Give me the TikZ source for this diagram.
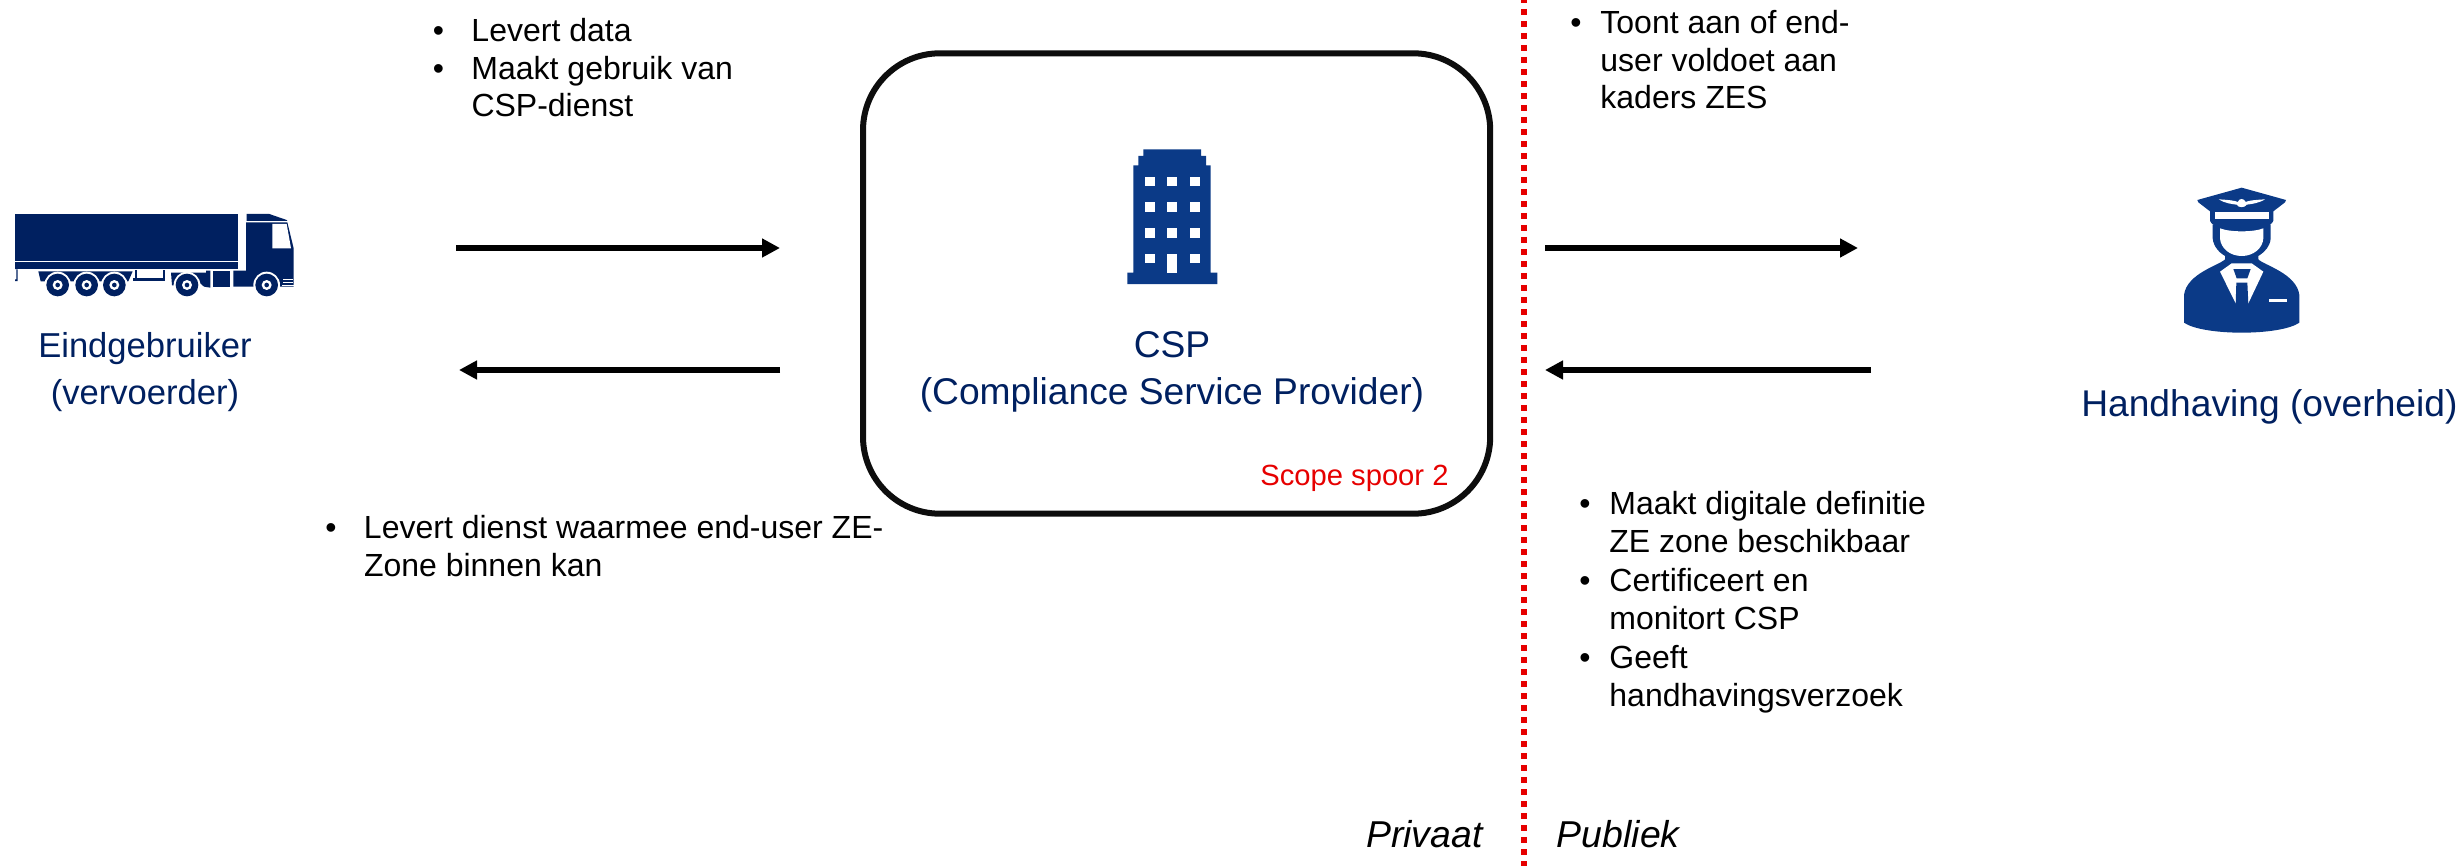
\documentclass[tikz,border=0pt]{standalone}
\usepackage{fontspec}
\setmainfont{Liberation Sans}
\usetikzlibrary{arrows.meta}
\definecolor{navy}{HTML}{002060}
\definecolor{bluedk}{HTML}{0B3A87}
\definecolor{redline}{HTML}{E60000}
\newcommand{\bul}[1]{\makebox[#1][l]{•}}
\tikzset{
 flow/.style={line width=3pt,-{Triangle[length=9pt,width=9pt]}},
 bullets/.style={inner sep=0pt,anchor=north west,align=left,font=\fontsize{16}{18.85}\selectfont},
 actor/.style={inner sep=0pt,align=center,text=navy,font=\fontsize{18.6}{23.5}\selectfont},
 side/.style={inner sep=0pt,font=\fontsize{18.7}{22}\selectfont\itshape},
 zoomed/.style={x=0.16667pt,y=-0.16667pt}
}
\begin{document}
\begin{tikzpicture}[x=0.5pt,y=-0.5pt]
\useasboundingbox (0,0) rectangle (2459,866);
% boundary
\coordinate (divtop) at (1524,0);
\coordinate (divbot) at (1524,866);
\draw[redline,line width=3pt,dash pattern=on 3pt off 3pt,dash phase=1.5pt] (divtop) -- (divbot);
% CSP box
\node[draw=black!95,line width=3pt,rounded corners=38.5pt,minimum width=313.6pt,minimum height=230.2pt,inner sep=0pt] (csp) at (1176.6,283.5) {};
% Truck
\begin{scope}[shift={(0,200)},zoomed]
\fill[navy] (45,42) rectangle (715,182);
\fill[navy] (45,185) rectangle (715,208);
\fill[navy] (45,208)--(53,208)--(53,243)--(45,243)--(45,238)--(49,238)--(49,208)--cycle;
\fill[navy] (115,214)--(398,214)--(385,244)--(122,244)--cycle;
\fill[navy] (398,235)--(495,235)--(495,243)--(398,243)--cycle;
\fill[navy] (405,210) rectangle (410,235);
\fill[navy] (488,210) rectangle (494,235);
\fill[navy] (513,218)--(618,218)--(618,212)--(631,212)--(631,263)--(612,260)--(590,240)--(530,240)--(530,256)--(516,256)--cycle;
\fill[navy] (640,212) rectangle (690,262);
\fill[navy] (740,42)--(808,42)--(860,60)--(862,63)--(740,63)--cycle;
\fill[navy] (738,67)--(862,67)--(881,145)--(881,260)--(700,260)--(700,212)--(738,212)--cycle;
\fill[white] (817,72)--(860,72)--(873,145)--(817,145)--cycle;
\foreach \wx in {173,260,343,561,800}{
  \fill[white] (\wx,255) circle[radius=40];
  \fill[navy] (\wx,255) circle[radius=34];
  \fill[white] (\wx,255) circle[radius=15];
  \fill[navy] (\wx,255) circle[radius=7];
}
\fill[white] (850,238) rectangle (878,241);
\fill[white] (850,247) rectangle (878,250);
\fill[white] (845,256) rectangle (881,259);
\end{scope}
% Building
\begin{scope}[shift={(1110,140)},zoomed]
\fill[bluedk] (100,28)--(273,28)--(273,48)--(288,48)--(288,76)--(302,76)--(302,398)--(322,398)--(322,432)--(52,432)--(52,398)--(70,398)--(70,76)--(85,76)--(85,48)--(100,48)--cycle;
\foreach \wx in {105,172,240}\foreach \wy in {110,187,264}{
  \fill[white] (\wx,\wy) rectangle ++(29,29);
}
\fill[white] (105,341) rectangle ++(29,29);
\fill[white] (240,341) rectangle ++(29,29);
\fill[white] (172,341) rectangle (201,398);
\end{scope}
% Officer
\begin{scope}[shift={(2170,170)},zoomed]
\fill[bluedk] (82,90)--(215,53)--(348,90)--(345,97)--(310,124)--(310,152) .. controls (305,170) and (260,187) .. (215,187) .. controls (170,187) and (125,170) .. (120,152)--(120,124)--(85,97)--cycle;
\fill[white] (134,127) rectangle (297,146);
\fill[white] (146,88) .. controls (180,90) and (195,92) .. (203,96) .. controls (208,84) and (222,84) .. (227,96) .. controls (235,92) and (250,90) .. (285,88) .. controls (265,100) and (245,102) .. (230,104) .. controls (225,114) and (205,114) .. (200,104) .. controls (185,102) and (165,100) .. (146,88)--cycle;
\fill[bluedk] (128,165)--(128,205) .. controls (130,230) and (150,250) .. (165,258)--(165,268) .. controls (150,285) and (50,310) .. (42,375)--(42,458) .. controls (100,498) and (330,498) .. (388,458)--(388,375) .. controls (380,310) and (280,285) .. (265,268)--(265,258) .. controls (285,245) and (300,230) .. (302,205)--(302,165)--cycle;
\fill[white] (150,175) .. controls (180,187) and (250,187) .. (280,175)--(280,205) .. controls (278,235) and (250,258) .. (215,258) .. controls (180,258) and (152,235) .. (150,205)--cycle;
\fill[white] (150,305)--(185,280)--(245,280)--(280,305)--(235,400)--(197,400)--cycle;
\fill[bluedk] (190,297)--(242,297)--(232,325)--(200,325)--cycle;
\fill[bluedk] (199,338)--(232,338)--(235,402)--(197,402)--cycle;
\fill[white] (296,386) rectangle (350,397);
\end{scope}
% Arrows
\coordinate (a1s) at (456,248); \coordinate (a1e) at (780,248);
\coordinate (a2s) at (780,370); \coordinate (a2e) at (459,370);
\coordinate (a3s) at (1545,248); \coordinate (a3e) at (1858,248);
\coordinate (a4s) at (1871,370); \coordinate (a4e) at (1545,370);
\draw[flow] (a1s) -- (a1e);
\draw[flow] (a2s) -- (a2e);
\draw[flow] (a3s) -- (a3e);
\draw[flow] (a4s) -- (a4e);
% Labels
\node[actor,font=\fontsize{17.3}{23.5}\selectfont] (eind) at (145,372) {Eindgebruiker\\(vervoerder)};
\node[actor] (csplabel) at (1172,372) {CSP\\(Compliance Service Provider)};
\node[actor,anchor=east] (handh) at (2458,407) {Handhaving (overheid)};
\node[inner sep=0pt,anchor=east,text=redline,font=\fontsize{14.6}{16}\selectfont] (scope) at (1449,478) {Scope spoor 2};
\node[side,anchor=east] (priv) at (1483,834) {Privaat};
\node[side,anchor=west] (publ) at (1556.5,834) {Publiek};
% Bullets
\node[bullets] (b1) at (432.5,18) {\bul{19.3pt}Levert data\\\bul{19.3pt}Maakt gebruik van\\\hspace*{19.3pt}CSP-dienst};
\node[bullets] (b2) at (325,515) {\bul{19.3pt}Levert dienst waarmee end-user ZE-\\\hspace*{19.3pt}Zone binnen kan};
\node[bullets] (b3) at (1570,10) {\bul{15pt}Toont aan of end-\\\hspace*{15pt}user voldoet aan\\\hspace*{15pt}kaders ZES};
\node[bullets,font=\fontsize{16}{19.2}\selectfont] (b4) at (1579,491) {\bul{15pt}Maakt digitale definitie\\\hspace*{15pt}ZE zone beschikbaar\\\bul{15pt}Certificeert en\\\hspace*{15pt}monitort CSP\\\bul{15pt}Geeft\\\hspace*{15pt}handhavingsverzoek};
\end{tikzpicture}
\end{document}
